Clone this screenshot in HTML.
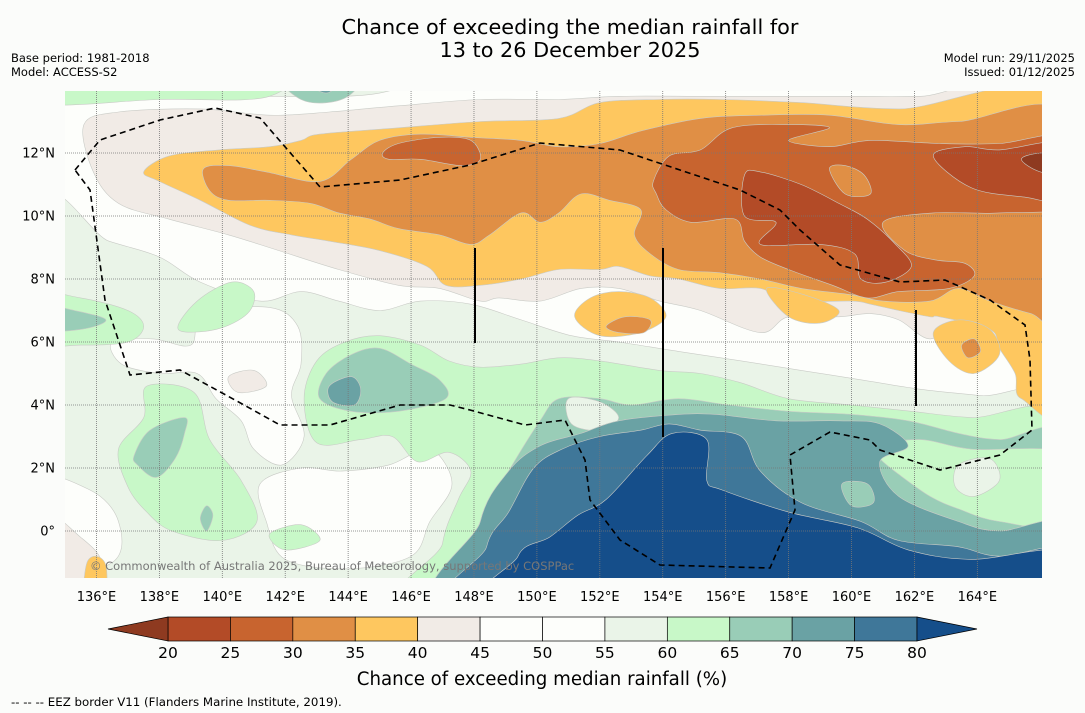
<!DOCTYPE html>
<html><head><meta charset="utf-8">
<style>
html,body{margin:0;padding:0;background:#fbfcfa;}
body{width:1085px;height:713px;position:relative;font-family:"DejaVu Sans","Liberation Sans",sans-serif;overflow:hidden;}
</style></head>
<body>
<svg id="chart" width="1085" height="713" xmlns="http://www.w3.org/2000/svg" style="position:absolute;left:0;top:0">
<text x="570" y="34" text-anchor="middle" font-size="20.8" fill="#000">Chance of exceeding the median rainfall for</text>
<text x="570" y="57" text-anchor="middle" font-size="20.8" fill="#000">13 to 26 December 2025</text>
<text x="11" y="62" font-size="11.5">Base period: 1981-2018</text>
<text x="11" y="76" font-size="11.5">Model: ACCESS-S2</text>
<text x="1075" y="62" font-size="11.5" text-anchor="end">Model run: 29/11/2025</text>
<text x="1075" y="76" font-size="11.5" text-anchor="end">Issued: 01/12/2025</text>
<defs><clipPath id="mapclip"><rect x="65" y="91" width="977" height="487"/></clipPath></defs>
<g id="map" clip-path="url(#mapclip)">
<rect x="65" y="91" width="977" height="487" fill="#fdfefb"/>
<g id="regions"></g>
<g id="grid"></g>
<path fill="none" stroke="#000" stroke-width="1.6" stroke-dasharray="6,4" d="M75,170 L100,140 L160,120 L215,108 L260,118 L320,187 L400,180 L470,165 L540,143 L620,150 L680,170 L740,190 L780,210 L800,230 L840,265 L900,282 L945,280 L990,300 L1025,325 L1030,360 L1032,430 L1000,455 L940,470 L880,450 L870,440 L830,432 L790,455 L795,510 L770,568 L660,565 L620,540 L590,500 L585,460 L565,420 L525,425 L470,410 L450,405 L400,405 L330,425 L280,425 L235,400 L180,370 L130,375 L105,300 L90,190 Z"/>
<line x1="475" y1="248" x2="475" y2="343" stroke="#000" stroke-width="2"/>
<line x1="663" y1="248" x2="663" y2="437" stroke="#000" stroke-width="2"/>
<line x1="916" y1="310" x2="916" y2="406" stroke="#000" stroke-width="2"/>
<text x="90" y="570" font-size="11.5" fill="#777">© Commonwealth of Australia 2025, Bureau of Meteorology, supported by COSPPac</text>
</g>
<g id="axes"></g>
<g id="colorbar"></g>
<text x="542" y="685" text-anchor="middle" font-size="18.2">Chance of exceeding median rainfall (%)</text>
<text x="11" y="706" font-size="11.8">--  --  -- EEZ border V11 (Flanders Marine Institute, 2019).</text>
</svg>
<script>
const levels=[20,25,30,35,40,45,50,55,60,65,70,75,80];
const binColors=["#b34b27","#c8642f","#e08f45","#fec75f","#f1ebe6","#fdfefb","#fdfefb","#eaf4e8","#c8f8c8","#99cdb7","#6aa2a4","#3f7799"];
const lowColor="#8e3a20", highColor="#154e8a";
const lonTicks=[136,138,140,142,144,146,148,150,152,154,156,158,160,162,164];
const latTicks=[0,2,4,6,8,10,12];
// contour regions: [probability value, [[lon,lat],...]]
const regions=[
 [57,[[134,10],[136.4,9.2],[138,8.7],[139.3,7.9],[141.2,7.3],[142.5,7.6],[143.7,7.3],[145,7],[146.3,7.3],[147.9,7.2],[149.5,6.7],[151.1,6.2],[152.6,6.0],[154.5,5.7],[156.5,5.4],[158.4,5.1],[160.3,4.8],[162.2,4.5],[164.1,4.3],[167,4.0],[167,-3],[134,-3]]],
 [50,[[139.4,6.9],[141.5,7.1],[142.4,6.5],[142.5,5.3],[142.2,4.3],[142.6,3.0],[141.9,2.1],[141,2.6],[140.6,3.5],[139.8,4.2],[139.2,5.0],[138,5.0],[136.8,5.3],[136.5,6.0],[137.8,6.1],[139,5.9]]],
 [50,[[141.2,1.5],[142.5,2.0],[143.8,1.9],[145.3,2.1],[146.6,2.6],[147.3,1.5],[146.6,0.3],[146,-0.8],[144,-1.2],[142,-0.9],[141.4,0.3]]],
 [50,[[134,1.6],[135.8,1.3],[136.7,0.3],[136.5,-1],[134,-1.5]]],
 [42,[[134,0.6],[135.5,-0.2],[136.2,-1.2],[135.6,-3],[134,-3]]],
 [37,[[135.7,-1],[136.3,-1.1],[136.2,-3],[135.6,-3]]],
 [57,[[134,15],[146,15],[145,13.9],[140,13.8],[134,13.7]]],
 [62,[[134,15],[142,15],[141.5,13.8],[138,13.7],[134,13.6]]],
 [67,[[141.5,15],[144.5,15],[144,13.8],[142.5,13.7]]],
 [72,[[141.8,15],[143.8,15],[143.3,13.9]]],
 [62,[[134,7.5],[135.5,7.4],[137,7.0],[137.5,6.5],[137,6.0],[135.5,5.9],[134,6.0]]],
 [67,[[134,7.2],[135.3,7.0],[136.3,6.7],[135.5,6.4],[134,6.4]]],
 [62,[[138.6,6.4],[139.2,7.3],[140.3,7.9],[141,7.6],[140.8,6.9],[139.8,6.4]]],
 [62,[[137.6,4.6],[139.1,4.4],[139.6,2.9],[140.6,1.6],[141.1,0.3],[140,-0.3],[138.4,0],[137.6,0.6],[137,1.4],[136.7,2.6],[137.5,3.6]]],
 [67,[[138.8,3.6],[138.8,3.1],[138.5,2.3],[137.9,1.7],[137.3,2.1],[137.2,2.4],[137.7,3.2]]],
 [67,[[139.5,0.8],[139.7,0.5],[139.5,0.0],[139.3,0.4]]],
 [62,[[141.5,-0.1],[142.5,0.2],[143.1,-0.3],[142,-0.6]]],
 [62,[[142.6,4.2],[143,5.4],[143.9,6.0],[145,6.2],[146.3,5.9],[147.2,5.4],[148.2,5.2],[149.5,5.3],[150.7,5.5],[152,5.4],[153.9,5.1],[155.2,5],[156.5,4.7],[158,4.2],[160,4.0],[161.9,3.8],[163.8,3.6],[167,3.5],[167,-3],[146.8,-3],[147,-0.4],[147.5,1],[147.9,1.9],[147.2,2.5],[146.2,2.2],[145.4,3.0],[144.4,2.9],[143,2.8]]],
 [67,[[143.1,4.2],[143.3,5.0],[144.1,5.6],[145,5.8],[146,5.3],[146.9,4.8],[147.1,4.2],[145.6,3.8],[144.1,3.8]]],
 [72,[[143.4,4.6],[144.1,4.9],[144.4,4.5],[144.2,4.0],[143.5,4.1]]],
 [67,[[147.9,-3],[148.2,0.3],[149.1,1.9],[150.1,3.5],[150.7,4.2],[152,4.2],[153,4.0],[154.5,4.2],[156.1,4.0],[158,3.8],[160,3.7],[161.8,3.5],[163.4,3.1],[164.7,2.9],[167,2.9],[167,-3]]],
 [62,[[160.7,2.7],[162.2,2.9],[163.8,2.6],[167,2.4],[167,0.2],[164.7,0.3],[163.4,0.7],[162.5,1.1],[161.5,1.8],[160.9,2.3]]],
 [57,[[163.4,2.1],[164.4,2.3],[164.7,1.6],[163.9,1.1],[163.3,1.4]]],
 [57,[[151,4.2],[152,4.1],[152.6,3.6],[152,3.2],[151.1,3.4]]],
 [72,[[147.9,-3],[148.2,0.3],[149.1,1.9],[150.1,2.7],[151.4,3.1],[152.6,3.5],[154.5,3.7],[155.7,3.7],[157.6,3.5],[159.6,3.5],[160.9,3.4],[161.8,2.7],[160.9,2.2],[161.5,1.1],[163.4,0.3],[164.7,0.0],[167,0.2],[167,-3]]],
 [77,[[148.2,-3],[148.4,-0.5],[149.1,0.6],[149.9,2.0],[150.8,2.6],[152,3.0],[153.3,3.2],[154.2,3.4],[155.2,3.2],[156.5,3.0],[157.1,1.9],[158.4,0.9],[160.3,0.3],[161.5,-0.3],[163.4,-0.5],[164.7,-0.8],[167,-0.6],[167,-3]]],
 [85,[[149.2,-3],[149.4,-0.8],[150.4,-0.2],[151.3,0.5],[152.2,1.0],[153.5,2.4],[154.3,3.1],[155.4,2.9],[155.4,1.6],[155.9,1.3],[158,0.6],[160.2,0.1],[161.8,-0.6],[163.8,-0.9],[167,-0.7],[167,-3]]],
 [67,[[159.7,1.5],[160.5,1.5],[160.7,0.9],[160,0.8]]],
 [42,[[135.6,12.9],[136.7,13.3],[139.3,13.4],[141.5,13.2],[143.4,13.3],[145.6,13.5],[148.2,13.7],[150.7,13.7],[152.6,13.8],[155.2,13.8],[157.1,13.8],[160,13.8],[162.2,13.8],[167,13.9],[167,3.5],[165.7,5.4],[164.7,6.4],[163.4,6.7],[162.5,6.1],[161.5,6.7],[160.6,6.9],[159.6,6.8],[158,6.8],[157.1,6.3],[155.2,7.0],[153.9,7.3],[152.6,7.7],[151.4,7.7],[150.1,7.3],[148.8,7.4],[148.2,7.3],[146.9,7.7],[145.6,7.8],[143.7,8.3],[141.8,8.9],[140.2,9.4],[138.3,9.9],[136.7,10.4],[135.9,11.4]]],
 [42,[[140.2,4.9],[141,5.1],[141.4,4.6],[140.5,4.4]]],
 [37,[[137.5,11.4],[138.3,11.9],[139.9,12.1],[141.5,12.2],[142.5,12.4],[143.1,12.6],[145.6,12.8],[148.2,13.0],[150.7,13.1],[152,13.6],[153.9,13.7],[155.8,13.7],[158.4,13.6],[161.5,13.4],[167,13.5],[167,4.2],[165.4,4.2],[165.2,5.0],[164.7,5.8],[164.4,6.4],[162.8,6.8],[162.5,6.8],[161.5,7.0],[160.6,7.2],[160,7.3],[158,7.3],[157.1,7.7],[155.8,7.7],[154.5,8.0],[153.6,8.1],[152.6,8.4],[152,8.3],[150.7,8.3],[149.5,8.0],[148.2,7.8],[147.1,7.8],[146.5,8.4],[145,8.9],[143.4,9.2],[142.2,9.4],[140.9,9.7],[139.3,10.5],[138,11.1]]],
 [37,[[151.2,6.8],[151.7,7.4],[152.6,7.6],[153.6,7.4],[154.1,6.8],[153.3,6.3],[152,6.2]]],
 [32,[[152.2,6.5],[152.8,6.8],[153.6,6.7],[153.4,6.3],[152.6,6.3]]],
 [37,[[157.3,7.7],[158.5,7.5],[159.6,7.0],[159.0,6.6],[158,6.8]]],
 [37,[[162.6,6.3],[163.4,6.7],[164.4,6.4],[164.7,5.6],[163.9,5.0],[163.1,5.4]]],
 [32,[[163.5,5.9],[163.9,6.1],[164.1,5.7],[163.7,5.5]]],
 [32,[[139.4,11.5],[140.2,11.6],[141.4,11.4],[143.1,11.1],[144.1,11.8],[145,12.4],[146.3,12.6],[147.9,12.5],[149.5,12.4],[150.7,12.2],[152,12.3],[153.3,12.7],[155.2,13.1],[157.1,13.2],[159.3,13.2],[161.5,12.9],[163.4,13.0],[167,13.1],[167,6.6],[165.7,6.9],[164.4,7.3],[163.4,7.7],[162.5,7.3],[161,7.3],[160,7.5],[158.4,7.7],[157.1,8.0],[155.8,8.2],[154.5,8.3],[153.6,8.8],[153.1,9.4],[153.3,10.2],[152.3,10.5],[151.4,10.7],[150.7,10.1],[150.1,9.8],[149.5,10.1],[148.5,9.4],[147.9,9.1],[146.9,9.4],[145.6,9.6],[144.7,9.9],[143.7,10.1],[142.8,10.4],[141.5,10.5],[140.2,10.5],[139.6,10.8]]],
 [27,[[153.7,11.1],[154.2,11.9],[155.2,12.1],[156.2,12.8],[158,12.9],[159.3,12.8],[158,12.4],[159.3,12.2],[160.6,12.4],[162.8,12.3],[164.7,12.3],[167,12.5],[167,10.4],[164.7,10.1],[162.6,10.1],[161,9.8],[161.7,8.9],[162.7,8.6],[163.6,8.5],[163.9,8.1],[163.1,7.7],[161.5,7.6],[160.5,7.4],[159.4,7.8],[158,8.3],[157.1,8.7],[156.6,9.2],[156.3,9.9],[154.9,9.8],[154.1,10.2],[153.8,10.7]]],
 [32,[[159.3,11.5],[159.8,11.6],[160.4,11.3],[160.6,10.7],[159.8,10.7]]],
 [27,[[145.1,12.0],[145.6,12.3],[146.9,12.5],[147.9,12.4],[148.2,11.8],[147.6,11.6],[146.3,11.8],[145.3,11.8]]],
 [22,[[156.6,11.3],[157.1,11.4],[158.4,11.0],[159.6,10.4],[160.5,9.9],[161.4,9.1],[161.9,8.4],[161.1,7.9],[160.3,8.0],[160.1,8.8],[159,9.1],[157.1,9.1],[157.6,9.8],[156.6,10.0]]],
 [22,[[162.6,11.9],[163.6,12.2],[164.7,12.1],[167,12.3],[167,10.5],[165.5,10.6],[163.8,10.9]]],
 [17,[[165.4,11.8],[166,12.0],[167,12.0],[167,11.3],[166,11.4]]]
];
const NS="http://www.w3.org/2000/svg";
const xS=lon=>65+(lon-135)*31.46;
const yS=lat=>531-lat*31.5;
function colorFor(v){if(v<20)return lowColor;if(v>=80)return highColor;return binColors[Math.floor((v-20)/5)];}
function smoothPath(pts){
 const p=pts.map(q=>[xS(q[0]),yS(q[1])]);const n=p.length;let d="M"+p[0][0].toFixed(1)+","+p[0][1].toFixed(1);
 for(let i=0;i<n;i++){const p0=p[(i-1+n)%n],p1=p[i],p2=p[(i+1)%n],p3=p[(i+2)%n];
  const c1=[p1[0]+(p2[0]-p0[0])/6,p1[1]+(p2[1]-p0[1])/6],c2=[p2[0]-(p3[0]-p1[0])/6,p2[1]-(p3[1]-p1[1])/6];
  d+=" C"+c1.map(v=>v.toFixed(1)).join(",")+" "+c2.map(v=>v.toFixed(1)).join(",")+" "+p2.map(v=>v.toFixed(1)).join(",");}
 return d+"Z";}
const rg=document.getElementById("regions");
regions.forEach(r=>{const el=document.createElementNS(NS,"path");
 
 
 el.setAttribute("d",smoothPath(r[1]));el.setAttribute("fill",colorFor(r[0]));el.setAttribute("stroke","#c9cbc6");el.setAttribute("stroke-width","0.6");rg.appendChild(el);});
const grid=document.getElementById("grid"),axes=document.getElementById("axes");
lonTicks.forEach(l=>{const x=xS(l);
 const ln=document.createElementNS(NS,"line");
 
 
 ln.setAttribute("x1",x);ln.setAttribute("x2",x);ln.setAttribute("y1",91);ln.setAttribute("y2",578);ln.setAttribute("stroke","#777");ln.setAttribute("stroke-width","0.8");ln.setAttribute("stroke-dasharray","1,1");grid.appendChild(ln);
 const t=document.createElementNS(NS,"text");
 
 
 t.setAttribute("x",x);t.setAttribute("y",601);t.setAttribute("text-anchor","middle");t.setAttribute("font-size","13");t.textContent=l+"°E";axes.appendChild(t);});
latTicks.forEach(l=>{const y=yS(l);
 const ln=document.createElementNS(NS,"line");
 
 
 ln.setAttribute("x1",65);ln.setAttribute("x2",1042);ln.setAttribute("y1",y);ln.setAttribute("y2",y);ln.setAttribute("stroke","#777");ln.setAttribute("stroke-width","0.8");ln.setAttribute("stroke-dasharray","1,1");grid.appendChild(ln);
 const t=document.createElementNS(NS,"text");
 
 
 t.setAttribute("x",55);t.setAttribute("y",y+4.5);t.setAttribute("text-anchor","end");t.setAttribute("font-size","13");t.textContent=l===0?"0°":l+"°N";axes.appendChild(t);});
const cb=document.getElementById("colorbar");
const cbX=v=>168+(v-20)*(749/60);
const cbTop=617,cbBot=641;
for(let i=0;i<binColors.length;i++){const r=document.createElementNS(NS,"rect");
 
 
 r.setAttribute("x",cbX(levels[i]));r.setAttribute("y",cbTop);r.setAttribute("width",cbX(levels[i+1])-cbX(levels[i]));r.setAttribute("height",cbBot-cbTop);r.setAttribute("fill",binColors[i]);r.setAttribute("stroke","#000");r.setAttribute("stroke-width","0.7");cb.appendChild(r);}
const tl=document.createElementNS(NS,"polygon");


tl.setAttribute("points",`${cbX(20)},${cbTop} 108,${(cbTop+cbBot)/2} ${cbX(20)},${cbBot}`);tl.setAttribute("fill",lowColor);tl.setAttribute("stroke","#000");tl.setAttribute("stroke-width","0.7");cb.appendChild(tl);
const th=document.createElementNS(NS,"polygon");


th.setAttribute("points",`${cbX(80)},${cbTop} 977,${(cbTop+cbBot)/2} ${cbX(80)},${cbBot}`);th.setAttribute("fill",highColor);th.setAttribute("stroke","#000");th.setAttribute("stroke-width","0.7");cb.appendChild(th);
levels.forEach(v=>{const t=document.createElementNS(NS,"text");
 
 
 t.setAttribute("x",cbX(v));t.setAttribute("y",658);t.setAttribute("text-anchor","middle");t.setAttribute("font-size","15.5");t.textContent=v;cb.appendChild(t);});
</script>
</body></html>
